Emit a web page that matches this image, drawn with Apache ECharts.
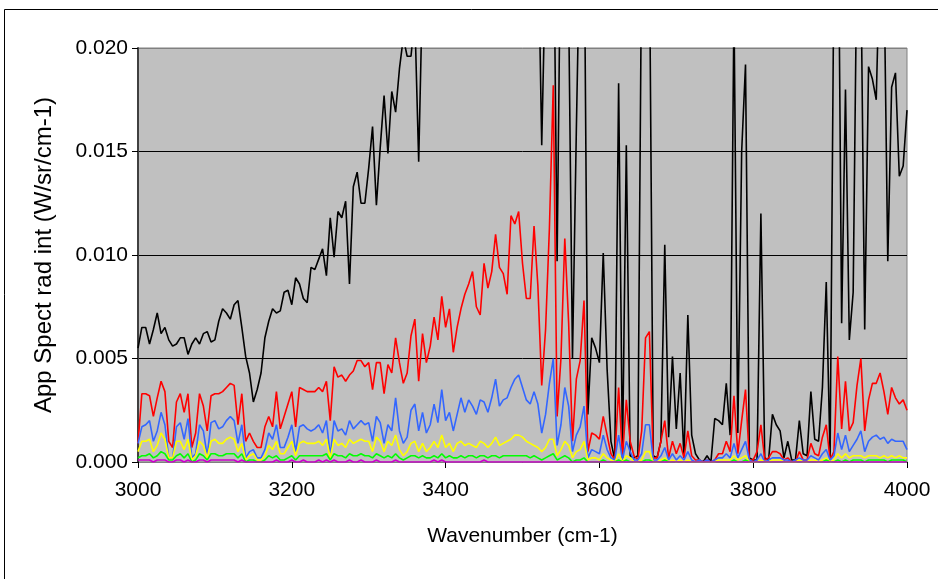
<!DOCTYPE html>
<html><head><meta charset="utf-8">
<script src="https://cdn.jsdelivr.net/npm/echarts@6/dist/echarts.min.js"></script>
<style>html,body{margin:0;padding:0;background:#fff}#c{width:938px;height:579px}</style>
</head><body><div id="c"></div>
<script>
// Wavenumber sampling: 3000..4000 cm-1 every 5 cm-1
const waveStart = 3000, waveStep = 5, nPoints = 201;
const xTicks = ['3000', '3200', '3400', '3600', '3800', '4000'];
const yTicks = ['0.000', '0.005', '0.010', '0.015', '0.020'];

const blackVals = [
0.0055,0.0065,0.0065,0.0057,0.0064,0.0072,0.0062,0.0065,0.0059,0.0056,0.0057,0.0060,0.0060,0.0052,0.0057,0.0060,0.0057,0.0062,0.0063,0.0058,0.0059,0.0068,0.0074,0.0072,0.0069,0.0076,0.0078,0.0065,0.0051,0.0043,0.0029,0.0035,0.0043,0.0060,
0.0068,0.0074,0.0072,0.0073,0.0082,0.0083,0.0076,0.0089,0.0086,0.0079,0.0077,0.0094,0.0093,0.0098,0.0103,0.0090,0.0118,0.0099,0.0121,0.0118,0.0126,0.0086,0.0133,0.0140,0.0125,0.0125,0.0142,0.0162,0.0124,0.0152,0.0177,0.0149,
0.0179,0.0169,0.0190,0.0205,0.0196,0.0196,0.0215,0.0145,0.0230,
0.0245,0.0260,0.0252,0.0270,0.0265,0.0280,0.0275,0.0290,0.0285,0.0300,0.0295,0.0310,0.0305,0.0300,0.0320,0.0310,0.0330,0.0320,0.0335,0.0325,0.0340,0.0330,0.0345,0.0335,0.0320,
0.0300,0.0280,0.0300,0.0270,0.0260,0.0153,0.0240,0.0300,0.0280,0.0097,0.0270,0.0300,0.0220,0.0050,0.0160,0.0260,0.0270,0.0023,0.0060,0.0055,0.0048,0.0101,0.0045,0.0010,0.0001,0.0183,0.0002,0.0153,0.0003,0.0002,0.0003,0.0250,0.0300,
0.0250,0.0003,0.0002,0.0010,0.0105,0.0012,0.0051,0.0016,0.0043,0.0002,0.0071,0.0013,0.0004,0.0001,0.0000,0.0003,0.0000,0.0021,0.0020,0.0018,0.0038,0.0013,0.0220,0.0014,0.0150,0.0192,0.0002,0.0001,0.0001,0.0120,0.0002,0.0001,0.0023,0.0018,
0.0015,0.0002,0.0010,0.0001,0.0001,0.0020,0.0004,0.0003,0.0034,0.0011,0.0010,0.0036,0.0087,0.0002,0.0240,0.0300,0.0067,0.0180,0.0059,0.0082,0.0250,0.0240,0.0064,0.0191,0.0185,0.0175,0.0250,0.0240,0.0097,0.0181,0.0188,0.0138,0.0143,0.0170
];

const redVals = [
0.0009,0.0033,0.0033,0.0032,0.0022,0.0031,0.0039,0.0034,0.0010,0.0007,0.0029,0.0033,0.0024,0.0033,0.0007,0.0014,0.0033,0.0027,0.0015,0.0032,0.0033,0.0033,0.0034,0.0036,0.0038,0.0037,0.0018,0.0033,0.0010,0.0014,0.0010,0.0007,0.0007,0.0017,
0.0022,0.0017,0.0034,0.0016,0.0022,0.0028,0.0034,0.0017,0.0036,0.0035,0.0034,0.0034,0.0034,0.0036,0.0034,0.0039,0.0020,0.0046,0.0041,0.0042,0.0039,0.0042,0.0044,0.0049,0.0049,0.0046,0.0048,0.0035,0.0048,0.0048,0.0033,0.0047,
0.0043,0.0060,0.0048,0.0038,0.0043,0.0061,0.0069,0.0039,0.0062,0.0048,0.0056,0.0070,0.0059,0.0080,0.0065,0.0074,0.0053,0.0065,0.0074,0.0081,0.0086,0.0092,0.0075,0.0071,0.0096,0.0084,0.0092,0.0110,0.0094,0.0091,0.0081,0.0119,0.0115,0.0121,
0.0096,0.0079,0.0079,0.0114,0.0085,0.0037,0.0064,0.0113,0.0182,0.0022,0.0050,0.0108,0.0067,0.0010,0.0040,0.0049,0.0078,0.0005,0.0014,0.0013,0.0011,0.0022,0.0013,0.0004,0.0001,0.0036,0.0002,0.0030,0.0010,0.0003,0.0001,0.0015,0.0060,
0.0063,0.0002,0.0002,0.0010,0.0020,0.0002,0.0010,0.0004,0.0009,0.0002,0.0015,0.0003,0.0001,0.0001,0.0000,0.0001,0.0000,0.0001,0.0004,0.0004,0.0010,0.0005,0.0032,0.0004,0.0020,0.0035,0.0001,0.0001,0.0005,0.0018,0.0001,0.0002,0.0005,0.0005,
0.0004,0.0001,0.0002,0.0000,0.0000,0.0005,0.0001,0.0001,0.0009,0.0004,0.0003,0.0012,0.0018,0.0001,0.0005,0.0051,0.0016,0.0039,0.0015,0.0019,0.0037,0.0050,0.0015,0.0030,0.0038,0.0038,0.0043,0.0034,0.0023,0.0036,0.0031,0.0028,0.0030,0.0025
];

const blueVals = [
0.0009,0.0017,0.0018,0.0020,0.0010,0.0015,0.0024,0.0018,0.0002,0.0002,0.0017,0.0019,0.0011,0.0021,0.0002,0.0004,0.0018,0.0015,0.0003,0.0019,0.0020,0.0016,0.0017,0.0020,0.0022,0.0020,0.0009,0.0018,0.0002,0.0005,0.0006,0.0002,0.0002,0.0006,
0.0014,0.0011,0.0018,0.0007,0.0007,0.0012,0.0018,0.0005,0.0017,0.0018,0.0016,0.0015,0.0016,0.0018,0.0014,0.0020,0.0003,0.0020,0.0015,0.0016,0.0013,0.0020,0.0016,0.0018,0.0020,0.0018,0.0019,0.0010,0.0022,0.0019,0.0009,0.0018,
0.0015,0.0031,0.0015,0.0009,0.0012,0.0025,0.0028,0.0015,0.0024,0.0014,0.0018,0.0028,0.0019,0.0035,0.0020,0.0024,0.0015,0.0023,0.0031,0.0024,0.0030,0.0027,0.0023,0.0030,0.0029,0.0024,0.0031,0.0040,0.0027,0.0030,0.0031,0.0036,0.0040,0.0042,
0.0036,0.0030,0.0028,0.0034,0.0028,0.0014,0.0023,0.0038,0.0050,0.0008,0.0018,0.0036,0.0027,0.0005,0.0013,0.0017,0.0027,0.0002,0.0006,0.0005,0.0004,0.0013,0.0006,0.0002,0.0001,0.0013,0.0001,0.0010,0.0005,0.0001,0.0001,0.0004,0.0018,
0.0018,0.0001,0.0001,0.0003,0.0007,0.0001,0.0004,0.0001,0.0003,0.0001,0.0005,0.0001,0.0000,0.0001,0.0000,0.0001,0.0000,0.0001,0.0002,0.0002,0.0004,0.0002,0.0009,0.0002,0.0006,0.0010,0.0001,0.0000,0.0001,0.0004,0.0000,0.0001,0.0002,0.0002,
0.0002,0.0001,0.0001,0.0000,0.0001,0.0002,0.0001,0.0001,0.0003,0.0002,0.0001,0.0004,0.0006,0.0001,0.0003,0.0014,0.0006,0.0013,0.0005,0.0008,0.0011,0.0015,0.0005,0.0010,0.0012,0.0013,0.0011,0.0012,0.0009,0.0011,0.0010,0.0010,0.0010,0.0006
];

const yellowVals = [
0.0005,0.0010,0.0010,0.0011,0.0005,0.0008,0.0014,0.0011,0.0002,0.0002,0.0010,0.0010,0.0006,0.0011,0.0001,0.0003,0.0010,0.0008,0.0002,0.0010,0.0011,0.0009,0.0009,0.0011,0.0012,0.0011,0.0005,0.0009,0.0001,0.0003,0.0004,0.0001,0.0001,0.0003,
0.0008,0.0006,0.0010,0.0004,0.0004,0.0007,0.0010,0.0003,0.0009,0.0010,0.0009,0.0009,0.0009,0.0010,0.0008,0.0011,0.0002,0.0011,0.0008,0.0009,0.0007,0.0011,0.0009,0.0010,0.0011,0.0010,0.0010,0.0005,0.0012,0.0010,0.0005,0.0010,
0.0008,0.0013,0.0006,0.0003,0.0005,0.0009,0.0010,0.0005,0.0009,0.0005,0.0007,0.0010,0.0007,0.0013,0.0007,0.0009,0.0005,0.0009,0.0010,0.0008,0.0009,0.0008,0.0007,0.0010,0.0009,0.0007,0.0009,0.0012,0.0008,0.0009,0.0010,0.0011,0.0013,0.0013,
0.0012,0.0010,0.0009,0.0008,0.0007,0.0005,0.0007,0.0011,0.0011,0.0003,0.0006,0.0010,0.0008,0.0002,0.0005,0.0006,0.0010,0.0001,0.0002,0.0002,0.0001,0.0004,0.0002,0.0001,0.0000,0.0004,0.0000,0.0003,0.0002,0.0000,0.0000,0.0001,0.0005,
0.0005,0.0000,0.0000,0.0001,0.0002,0.0000,0.0001,0.0000,0.0001,0.0000,0.0001,0.0000,0.0000,0.0000,0.0000,0.0000,0.0000,0.0000,0.0001,0.0001,0.0001,0.0001,0.0003,0.0001,0.0002,0.0003,0.0000,0.0000,0.0000,0.0001,0.0000,0.0000,0.0001,0.0001,
0.0001,0.0000,0.0000,0.0000,0.0000,0.0001,0.0000,0.0000,0.0001,0.0001,0.0000,0.0001,0.0002,0.0000,0.0001,0.0004,0.0002,0.0004,0.0002,0.0003,0.0003,0.0003,0.0002,0.0003,0.0003,0.0003,0.0002,0.0003,0.0002,0.0003,0.0002,0.0003,0.0002,0.0002
];

const greenVals = [
0.0002,0.0003,0.0003,0.0004,0.0002,0.0003,0.0005,0.0004,0.0001,0.0001,0.0003,0.0004,0.0002,0.0004,0.0000,0.0001,0.0004,0.0003,0.0001,0.0004,0.0004,0.0003,0.0003,0.0004,0.0004,0.0004,0.0002,0.0004,0.0000,0.0001,0.0001,0.0000,0.0000,0.0001,
0.0003,0.0002,0.0003,0.0001,0.0001,0.0002,0.0003,0.0001,0.0003,0.0003,0.0003,0.0003,0.0003,0.0003,0.0003,0.0004,0.0001,0.0004,0.0003,0.0003,0.0002,0.0004,0.0003,0.0003,0.0004,0.0003,0.0003,0.0002,0.0004,0.0003,0.0002,0.0003,
0.0002,0.0004,0.0002,0.0001,0.0002,0.0003,0.0003,0.0002,0.0003,0.0002,0.0002,0.0003,0.0002,0.0004,0.0002,0.0003,0.0002,0.0002,0.0003,0.0002,0.0003,0.0003,0.0002,0.0003,0.0003,0.0002,0.0003,0.0003,0.0002,0.0003,0.0003,0.0003,0.0003,0.0003,
0.0003,0.0003,0.0002,0.0003,0.0002,0.0001,0.0002,0.0003,0.0004,0.0001,0.0002,0.0003,0.0002,0.0000,0.0001,0.0001,0.0002,0.0000,0.0000,0.0000,0.0000,0.0001,0.0000,0.0000,0.0000,0.0001,0.0000,0.0001,0.0000,0.0000,0.0000,0.0000,0.0001,
0.0001,0.0000,0.0000,0.0000,0.0001,0.0000,0.0000,0.0000,0.0000,0.0000,0.0000,0.0000,0.0000,0.0000,0.0000,0.0000,0.0000,0.0000,0.0000,0.0000,0.0000,0.0000,0.0001,0.0000,0.0000,0.0001,0.0000,0.0000,0.0000,0.0000,0.0000,0.0000,0.0000,0.0000,
0.0000,0.0000,0.0000,0.0000,0.0000,0.0000,0.0000,0.0000,0.0000,0.0000,0.0000,0.0000,0.0001,0.0000,0.0000,0.0001,0.0000,0.0001,0.0000,0.0001,0.0001,0.0001,0.0000,0.0001,0.0001,0.0001,0.0001,0.0001,0.0000,0.0001,0.0001,0.0001,0.0001,0.0000
];

const purpleVals = [
0.0001,0.0001,0.0001,0.0001,0.0000,0.0001,0.0001,0.0001,0.0000,0.0000,0.0001,0.0001,0.0000,0.0001,0.0000,0.0000,0.0001,0.0001,0.0000,0.0001,0.0001,0.0001,0.0001,0.0001,0.0001,0.0001,0.0000,0.0001,0.0000,0.0000,0.0000,0.0000,0.0000,0.0000,
0.0000,0.0000,0.0001,0.0000,0.0000,0.0000,0.0001,0.0000,0.0000,0.0001,0.0000,0.0000,0.0000,0.0001,0.0000,0.0001,0.0000,0.0001,0.0000,0.0000,0.0000,0.0001,0.0000,0.0000,0.0001,0.0000,0.0000,0.0000,0.0001,0.0000,0.0000,0.0000,
0.0000,0.0001,0.0000,0.0000,0.0000,0.0000,0.0000,0.0000,0.0000,0.0000,0.0000,0.0001,0.0000,0.0001,0.0000,0.0000,0.0000,0.0000,0.0000,0.0000,0.0000,0.0000,0.0000,0.0000,0.0001,0.0000,0.0000,0.0000,0.0000,0.0000,0.0000,0.0000,0.0000,0.0000,
0.0000,0.0000,0.0000,0.0000,0.0000,0.0000,0.0000,0.0000,0.0000,0.0000,0.0000,0.0000,0.0000,0.0000,0.0000,0.0000,0.0000,0.0000,0.0000,0.0000,0.0000,0.0000,0.0000,0.0000,0.0000,0.0000,0.0000,0.0000,0.0000,0.0000,0.0000,0.0000,0.0000,
0.0000,0.0000,0.0000,0.0000,0.0000,0.0000,0.0000,0.0000,0.0000,0.0000,0.0000,0.0000,0.0000,0.0000,0.0000,0.0000,0.0000,0.0000,0.0000,0.0000,0.0000,0.0000,0.0000,0.0000,0.0000,0.0000,0.0000,0.0000,0.0000,0.0000,0.0000,0.0000,0.0000,0.0000,
0.0000,0.0000,0.0000,0.0000,0.0000,0.0000,0.0000,0.0000,0.0000,0.0000,0.0000,0.0000,0.0000,0.0000,0.0000,0.0000,0.0000,0.0000,0.0000,0.0000,0.0000,0.0000,0.0000,0.0000,0.0000,0.0000,0.0000,0.0000,0.0000,0.0000,0.0000,0.0000,0.0000,0.0000
];

const seriesDefs = [
  { name: 'S1', color: '#000000', values: blackVals },
  { name: 'S2', color: '#FF0000', values: redVals },
  { name: 'S3', color: '#3366FF', values: blueVals },
  { name: 'S4', color: '#FFFF00', values: yellowVals },
  { name: 'S5', color: '#00FF00', values: greenVals },
  { name: 'S6', color: '#CC00CC', values: purpleVals }
];

const waves = [];
for (let i = 0; i < nPoints; i++) waves.push(waveStart + i * waveStep);

const chart = echarts.init(document.getElementById('c'), null, { renderer: 'canvas' });
const FONT = '"Liberation Sans", Arial, sans-serif';
chart.setOption({
  animation: false,
  backgroundColor: '#ffffff',
  graphic: [{
    type: 'rect', silent: true, z: 100,
    shape: { x: 4.5, y: 9.5, width: 1000, height: 1000 },
    style: { fill: 'none', stroke: '#000000', lineWidth: 1 }
  }],
  grid: {
    left: 138, top: 48, right: 31, bottom: 117,
    show: true, backgroundColor: '#C0C0C0', borderColor: '#808080', borderWidth: 1
  },
  xAxis: {
    type: 'value', min: 3000, max: 4000, interval: 200,
    name: 'Wavenumber (cm-1)', nameLocation: 'middle', nameGap: 64,
    nameTextStyle: { fontFamily: FONT, fontSize: 21, color: '#000' },
    axisLine: { show: true, onZero: false, lineStyle: { color: '#808080', width: 1 } },
    axisTick: { show: true, inside: false, length: 6, lineStyle: { color: '#000' } },
    axisLabel: { fontFamily: FONT, fontSize: 21, color: '#000', margin: 18,
      formatter: function (v) { const idx = Math.round((v - 3000) / 200); return xTicks[idx] !== undefined ? xTicks[idx] : String(v); } },
    splitLine: { show: false }
  },
  yAxis: {
    type: 'value', min: 0, max: 0.02, interval: 0.005,
    name: 'App Spect rad int (W/sr/cm-1)', nameLocation: 'middle', nameGap: 82, nameRotate: 90,
    nameTextStyle: { fontFamily: FONT, fontSize: 24, color: '#000' },
    axisLine: { show: true, lineStyle: { color: '#404040', width: 2 } },
    axisTick: { show: true, inside: false, length: 6, lineStyle: { color: '#000' } },
    axisLabel: { fontFamily: FONT, fontSize: 21, color: '#000', margin: 10,
      formatter: function (v) { const idx = Math.round(v / 0.005); return yTicks[idx] !== undefined ? yTicks[idx] : v.toFixed(3); } },
    splitLine: { show: true, lineStyle: { color: ['#000000', '#000000', '#000000', '#000000', '#808080'], width: 1 } }
  },
  series: seriesDefs.map(s => ({
    type: 'line', name: s.name, showSymbol: false, clip: true,
    lineStyle: { color: s.color, width: 1.6 },
    itemStyle: { color: s.color },
    data: s.values.map((v, i) => [waves[i], v])
  }))
});
</script></body></html>
